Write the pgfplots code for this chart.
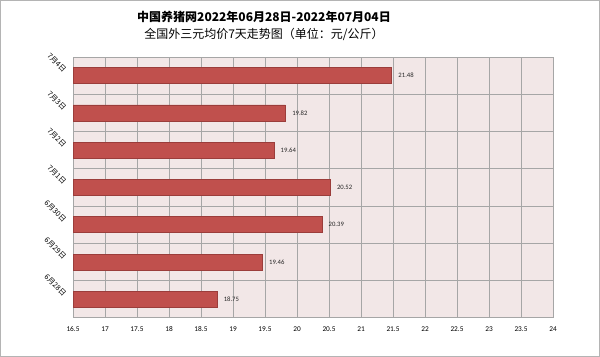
\documentclass[border=0pt]{standalone}
\usepackage{pgfplots}
\pgfplotsset{compat=1.18}
\usepackage{fontspec}
\setmainfont{Carlito}
\newfontfamily\cjk{Noto Sans CJK SC}
\definecolor{barred}{HTML}{C0504D}
\definecolor{bardark}{HTML}{9B3D3B}
\definecolor{bgpink}{HTML}{F2E7E7}
\definecolor{gridgray}{HTML}{A6A6A6}
\definecolor{framegray}{HTML}{B4B4B4}
\begin{document}
\begin{tikzpicture}
\useasboundingbox (0,0) rectangle (450pt,267.75pt);
\draw[framegray, line width=1pt] (0.5pt,0.5pt) rectangle (449.5pt,267.25pt);
\node[font=\cjk\fontsize{9}{10}\selectfont\bfseries] at (198pt,255pt) {中国养猪网2022年06月28日-2022年07月04日};
\node[font=\cjk\fontsize{9}{10}\selectfont] at (198pt,242.25pt) {全国外三元均价7天走势图（单位：元/公斤）};
\begin{axis}[
  at={(54.75pt,29.25pt)}, anchor=south west,
  scale only axis, width=360pt, height=195.75pt,
  xbar, bar width=12pt,
  xmin=16.5, xmax=24, ymin=-0.5, ymax=6.5,
  xtick={16.5,17,...,24},
  xticklabels={16.5,17,17.5,18,18.5,19,19.5,20,20.5,21,21.5,22,22.5,23,23.5,24},
  ytick={0,...,6},
  yticklabels={6月28日,6月29日,6月30日,7月1日,7月2日,7月3日,7月4日},
  minor ytick={-0.5,0.5,...,6.5},
  xmajorgrids, yminorgrids,
  grid style={gridgray, line width=0.75pt},
  minor grid style={gridgray, line width=0.75pt},
  major tick length=0pt, minor tick length=0pt,
  axis line style={gridgray, line width=0.75pt},
  axis background/.style={fill=bgpink},
  xticklabel style={font=\fontsize{5.5}{6}\selectfont, yshift=-3pt},
  yticklabel style={font=\cjk\fontsize{5.5}{6}\selectfont, rotate=-45, anchor=east, inner sep=0.5pt, xshift=-6pt, yshift=-2pt},
  nodes near coords,
  nodes near coords style={font=\fontsize{5}{5}\selectfont, anchor=west, xshift=1.5pt, /pgf/number format/fixed, /pgf/number format/precision=2, /pgf/number format/fixed zerofill, /pgf/number format/assume math mode=true, text=black!85},
]
\addplot[fill=barred, draw=bardark, line width=0.5pt] coordinates {
  (18.75,0) (19.46,1) (20.39,2) (20.52,3) (19.64,4) (19.82,5) (21.48,6)
};
\end{axis}
\end{tikzpicture}
\end{document}
